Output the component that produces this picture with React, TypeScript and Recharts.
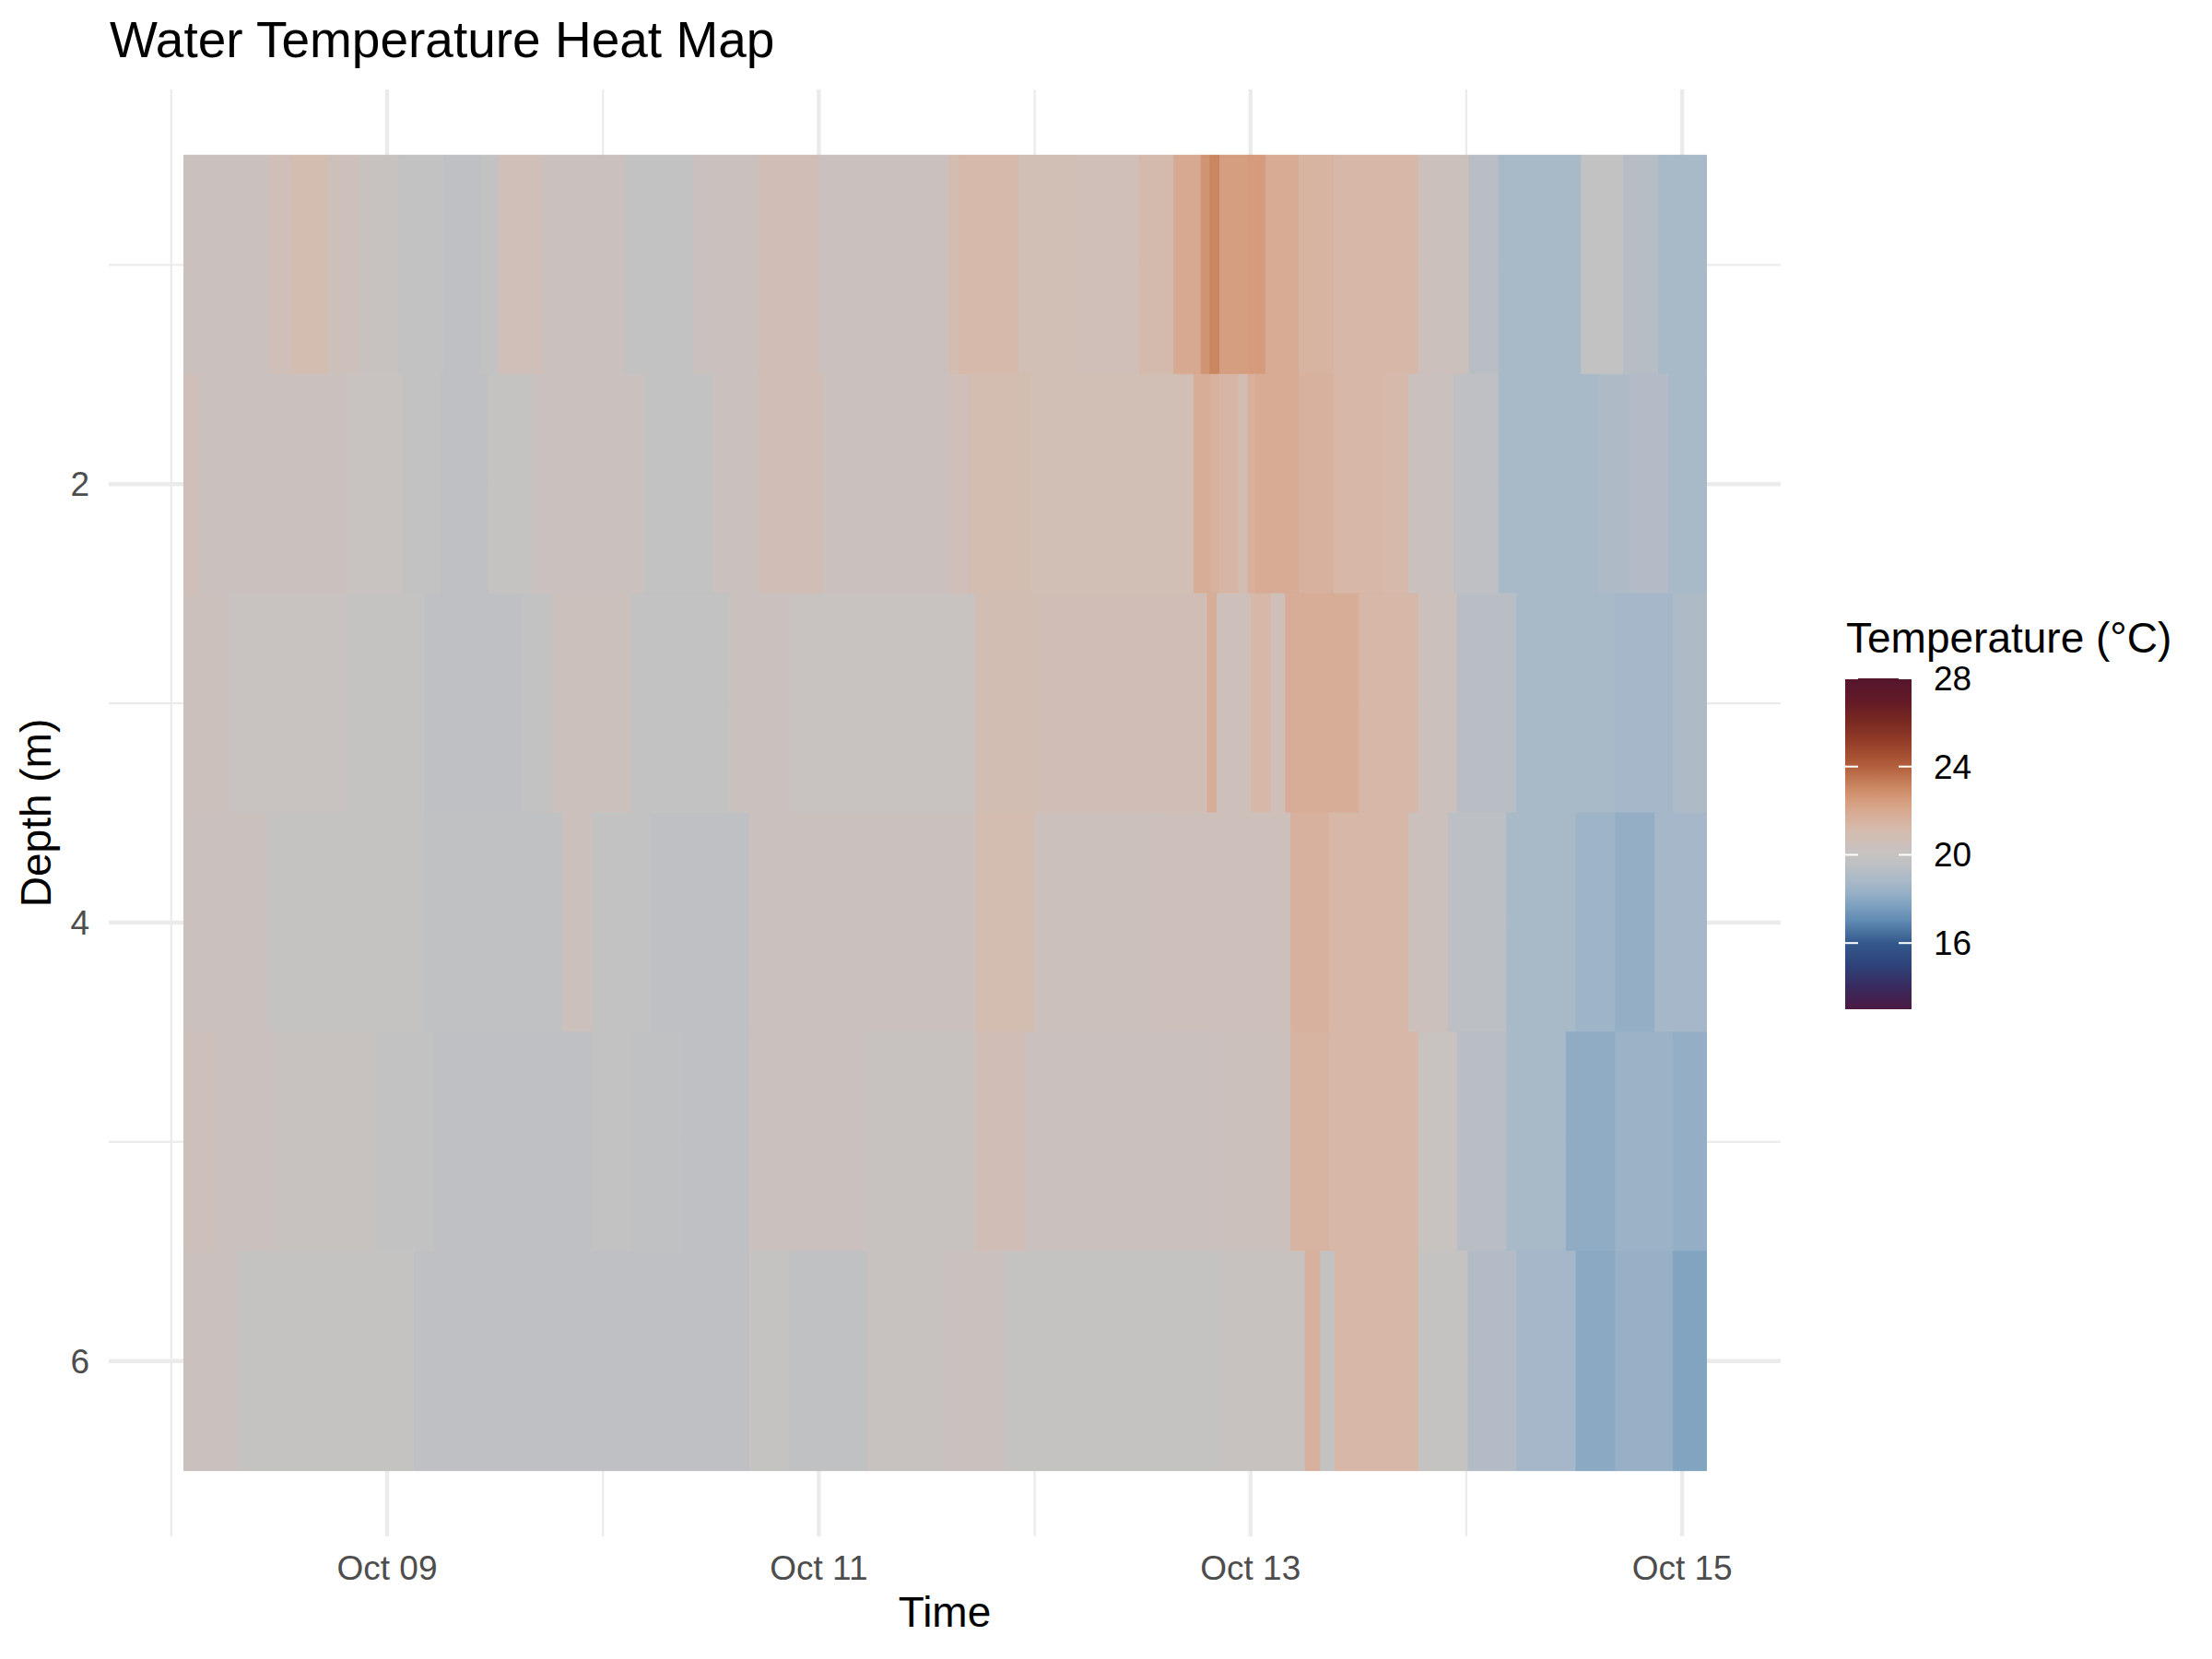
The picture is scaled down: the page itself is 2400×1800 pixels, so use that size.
import React from 'react';
import { ComposedChart, XAxis, YAxis, ReferenceArea, CartesianGrid, Scatter } from 'recharts';

// time is in hours after Oct 08 00:00
const seriesEnd = 170.7;

const depths = [1, 2, 3, 4, 5, 6];

const d1Start = [1.4, 10.9, 13.3, 17.5, 20.9, 25.3, 30.3, 34.5, 36.4, 41.4, 50.4, 58.2, 65.3, 72.0, 86.5, 87.6, 94.2, 100.4, 107.6, 111.5, 114.5, 115.5, 116.6, 119.7, 121.7, 125.4, 129.3, 138.7, 144.3, 147.6, 156.8, 161.5, 165.4];
const d1Temp = [20.3, 20.6, 21.0, 20.5, 20.1, 19.8, 19.6, 19.9, 20.6, 20.3, 19.9, 20.3, 20.7, 20.3, 21.0, 21.2, 20.8, 20.6, 21.1, 22.0, 22.7, 23.1, 22.4, 22.5, 21.9, 21.5, 21.3, 20.4, 19.4, 18.8, 19.9, 19.3, 18.8];

const d2Start = [1.4, 3.1, 19.5, 25.8, 30.0, 35.3, 40.3, 52.6, 60.3, 65.3, 72.6, 86.5, 88.7, 95.6, 113.7, 115.6, 116.6, 118.7, 119.7, 120.6, 125.4, 129.3, 134.8, 137.6, 142.6, 147.6, 158.7, 162.2, 166.5];
const d2Temp = [20.6, 20.3, 20.2, 19.8, 19.6, 20.0, 20.3, 19.9, 20.3, 20.7, 20.3, 20.6, 21.0, 20.8, 21.8, 21.6, 21.4, 20.9, 21.7, 21.9, 21.6, 21.3, 21.2, 20.3, 19.6, 18.8, 19.0, 19.2, 18.8];

const d3Start = [1.4, 6.3, 19.4, 28.2, 39.1, 42.4, 51.2, 62.1, 68.7, 89.4, 96.0, 115.2, 116.3, 120.1, 122.3, 123.9, 132.1, 138.7, 143.0, 149.6, 160.6, 167.0];
const d3Temp = [20.4, 20.2, 20.0, 19.6, 19.9, 20.4, 19.8, 20.3, 20.2, 20.9, 20.7, 21.8, 20.5, 21.3, 20.6, 21.8, 21.3, 20.4, 19.4, 18.8, 18.7, 19.0];

const d4Start = [1.4, 10.7, 28.2, 43.5, 46.8, 53.3, 64.3, 89.4, 96.0, 110.3, 124.5, 128.8, 137.6, 142.0, 148.5, 156.2, 160.6, 165.0];
const d4Temp = [20.3, 20.0, 19.7, 20.4, 19.9, 19.6, 20.3, 21.0, 20.4, 20.5, 21.6, 21.3, 20.4, 19.5, 18.8, 18.5, 18.2, 18.7];

const d5Start = [1.4, 5.2, 11.8, 22.7, 29.2, 46.8, 51.2, 56.6, 64.3, 77.4, 89.4, 95.0, 116.8, 124.5, 128.8, 138.7, 143.0, 148.5, 155.1, 160.6, 167.0];
const d5Temp = [20.5, 20.3, 20.1, 19.9, 19.6, 19.9, 19.7, 19.6, 20.3, 20.1, 20.7, 20.3, 20.4, 21.5, 21.3, 20.2, 19.4, 18.8, 18.1, 18.4, 18.2];

const d6Start = [1.4, 7.4, 27.0, 64.3, 68.7, 77.4, 86.2, 92.7, 116.8, 126.1, 127.8, 129.4, 138.7, 144.2, 149.6, 156.2, 160.6, 167.0];
const d6Temp = [20.3, 20.0, 19.6, 20.0, 19.7, 20.1, 20.3, 20.0, 20.1, 21.6, 19.9, 21.3, 20.0, 19.2, 18.7, 18.0, 18.3, 17.8];

const rowStarts = [d1Start, d2Start, d3Start, d4Start, d5Start, d6Start];
const rowTemps = [d1Temp, d2Temp, d3Temp, d4Temp, d5Temp, d6Temp];

const dayTicks = [24, 72, 120, 168];
const dayLabels = ['Oct 09', 'Oct 11', 'Oct 13', 'Oct 15'];
const minorDays = [0, 48, 96, 144];
const depthTicks = [2, 4, 6];
const minorDepths = [1, 3, 5];

const legendTicks = [16, 20, 24, 28];
const tempMin = 13;
const tempMax = 28;

const paletteTemps = [13, 14, 15, 16, 17, 17.8, 18.2, 18.8, 19.3, 19.6, 20.0, 20.3, 20.6, 21.0, 21.3, 21.6, 22.0, 22.5, 23.0, 24, 25, 26, 27, 28];
const paletteColors = ['#4b1a43', '#392a5e', '#2e4379', '#33598c', '#5f8ab2', '#82a4c0', '#94aec6', '#a8b9c8', '#b6bdc5', '#bfc0c3', '#c5c3c1', '#cac1bf', '#cfbfb8', '#d3bcb0', '#d7b7a7', '#d7b19e', '#d7a990', '#d59b7c', '#cc8a65', '#b35f3c', '#98412b', '#7a2a21', '#621a27', '#54162e'];

const font = '"Liberation Sans", Arial, Helvetica, sans-serif';

function hexToRgb(h: string) {
  return [parseInt(h.slice(1, 3), 16), parseInt(h.slice(3, 5), 16), parseInt(h.slice(5, 7), 16)];
}

function tempColor(t: number) {
  if (t <= paletteTemps[0]) return paletteColors[0];
  for (let i = 1; i < paletteTemps.length; i++) {
    if (t <= paletteTemps[i]) {
      const f = (t - paletteTemps[i - 1]) / (paletteTemps[i] - paletteTemps[i - 1]);
      const a = hexToRgb(paletteColors[i - 1]);
      const b = hexToRgb(paletteColors[i]);
      const c = a.map((v, k) => Math.round(v + (b[k] - v) * f));
      return `rgb(${c[0]},${c[1]},${c[2]})`;
    }
  }
  return paletteColors[paletteColors.length - 1];
}

// run a value through an axis scale (function or object with map)
function applyScale(scale: any, v: number) {
  if (!scale) return null;
  if (typeof scale === 'function') return scale(v);
  if (typeof scale.map === 'function') return scale.map(v);
  return null;
}

const gridX = (values: number[]) => ({ xAxis }: any) =>
  values.map((v) => applyScale(xAxis?.scale, v)).filter((p) => p != null);
const gridY = (values: number[]) => ({ yAxis }: any) =>
  values.map((v) => applyScale(yAxis?.scale, v)).filter((p) => p != null);

const cells = depths.flatMap((d, r) =>
  rowStarts[r].map((s, i) => ({
    depth: d,
    x1: s,
    x2: i + 1 < rowStarts[r].length ? rowStarts[r][i + 1] : seriesEnd,
    temp: rowTemps[r][i],
  }))
);

const centres = cells.map((c) => ({ x: (c.x1 + c.x2) / 2, y: c.depth }));

// legend bar geometry
const barX = 2002;
const barTop = 736;
const barBottom = 1095;
const barW = 72;
const tempToBarY = (t: number) => barBottom - ((t - tempMin) / (tempMax - tempMin)) * (barBottom - barTop);

export default function App() {
  return (
    <div style={{ position: 'absolute', left: 0, top: 0, width: 2400, height: 1800, background: '#fff' }}>
      <ComposedChart
        width={2400}
        height={1800}
        data={centres}
        margin={{ top: 97, right: 468, bottom: 63, left: 18 }}
      >
        <CartesianGrid
          stroke="#ebebeb"
          strokeWidth={2.2}
          verticalCoordinatesGenerator={gridX(minorDays)}
          horizontalCoordinatesGenerator={gridY(minorDepths)}
        />
        <CartesianGrid
          stroke="#ebebeb"
          strokeWidth={4.4}
          verticalCoordinatesGenerator={gridX(dayTicks)}
          horizontalCoordinatesGenerator={gridY(depthTicks)}
        />
        <XAxis
          type="number"
          dataKey="x"
          domain={[-6.95, 178.95]}
          ticks={dayTicks}
          interval={0}
          allowDataOverflow
          tickFormatter={(v: number) => dayLabels[dayTicks.indexOf(v)]}
          axisLine={false}
          tickLine={false}
          tickSize={0}
          tickMargin={21}
          height={70}
          tick={{ fill: '#4d4d4d', fontSize: 37, fontFamily: font }}
        />
        <YAxis
          type="number"
          dataKey="y"
          reversed
          domain={[0.2, 6.8]}
          ticks={depthTicks}
          interval={0}
          allowDataOverflow
          axisLine={false}
          tickLine={false}
          tickSize={0}
          tickMargin={21}
          width={100}
          tick={{ fill: '#4d4d4d', fontSize: 37, fontFamily: font }}
        />
        {cells.map((c, i) => {
          const col = tempColor(c.temp);
          return (
            <ReferenceArea
              key={'c' + i}
              x1={c.x1}
              x2={c.x2}
              y1={c.depth - 0.5}
              y2={c.depth + 0.5}
              fill={col}
              fillOpacity={1}
              stroke={col}
              strokeWidth={1}
            />
          );
        })}
        <Scatter dataKey="y" isAnimationActive={false} shape={() => <g />} />
      </ComposedChart>

      <svg width={2400} height={1800} style={{ position: 'absolute', left: 0, top: 0, pointerEvents: 'none' }}>
        <defs>
          <linearGradient id="tempGrad" x1="0" y1="1" x2="0" y2="0">
            {paletteTemps.map((t, i) => (
              <stop key={i} offset={(t - tempMin) / (tempMax - tempMin)} stopColor={paletteColors[i]} />
            ))}
          </linearGradient>
        </defs>
        <text x={119} y={62} fontSize={55} fontFamily={font} fill="#000">
          Water Temperature Heat Map
        </text>
        <text x={1025} y={1765} fontSize={46} fontFamily={font} fill="#000" textAnchor="middle">
          Time
        </text>
        <text
          x={55}
          y={882}
          fontSize={46}
          fontFamily={font}
          fill="#000"
          textAnchor="middle"
          transform="rotate(-90 55 882)"
        >
          Depth (m)
        </text>
        <text x={2003} y={708} fontSize={46} fontFamily={font} fill="#000">
          Temperature (°C)
        </text>
        <rect x={barX} y={barTop} width={barW} height={barBottom - barTop} fill="url(#tempGrad)" />
        {legendTicks.map((t) => {
          const y = tempToBarY(t);
          return (
            <g key={t}>
              <line x1={barX} x2={barX + 14} y1={y} y2={y} stroke="#fff" strokeWidth={2} />
              <line x1={barX + barW - 14} x2={barX + barW} y1={y} y2={y} stroke="#fff" strokeWidth={2} />
              <text x={2098} y={y + 13} fontSize={37} fontFamily={font} fill="#000">
                {t}
              </text>
            </g>
          );
        })}
      </svg>
    </div>
  );
}
